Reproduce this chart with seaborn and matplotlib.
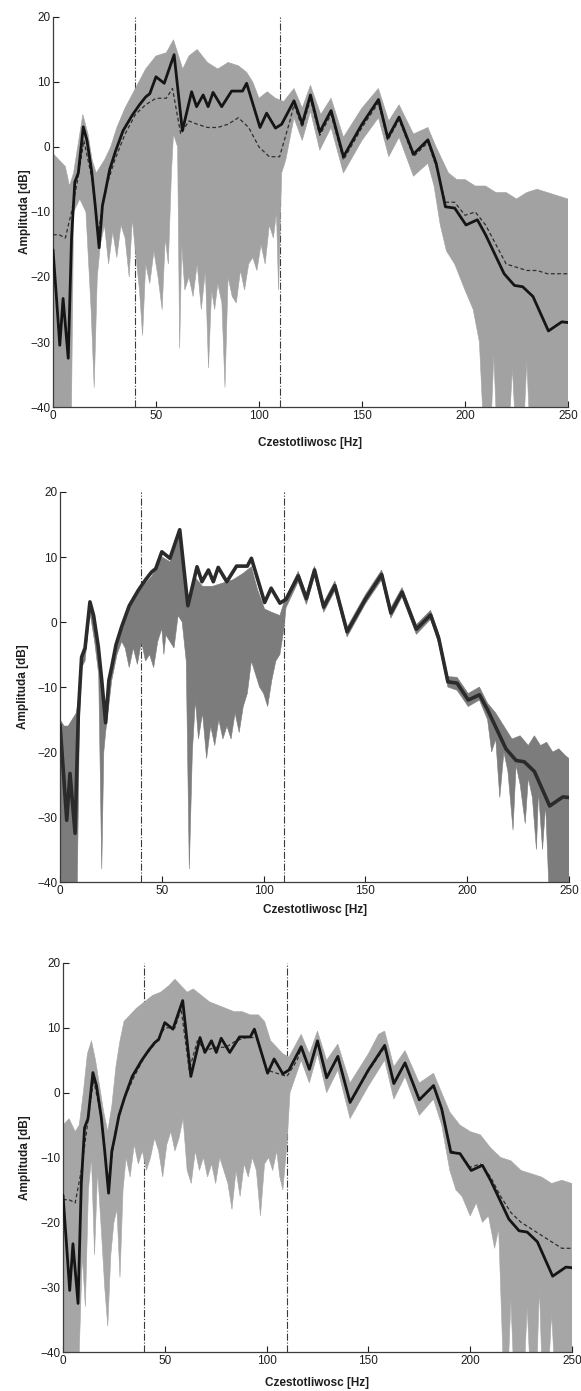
import numpy as np
import pandas as pd
import matplotlib
matplotlib.use("Agg")
import matplotlib.pyplot as plt
import seaborn as sns

# ---------------- data ----------------
# reference spectrum (thick black line), same in all panels
ref_hz = [0, 1.6, 3.3, 4.9, 7.4, 9.0, 10.6, 12.3, 14.7, 16.5, 18.8, 20.5, 22.4, 24, 25.4, 27.5, 30.3, 34,
          38.5, 42, 45, 47, 50, 54, 58.8, 62.8, 67.3, 69.7, 72.9, 75.3, 77.7, 81.9, 86.7, 92, 94,
          100.5, 103.7, 108, 111, 117, 121, 125, 129.5, 135, 141, 150, 158, 162.5, 168, 175, 182,
          186, 190.5, 195, 200.5, 206, 210, 219, 224, 228, 233, 240.5, 247, 250]
ref_db = [-15.8, -22.8, -30.5, -23.3, -32.5, -14, -5.4, -4, 3.1, 1, -3.8, -9, -15.5, -9, -6.9, -3.5, -0.7, 2.5,
          4.9, 6.5, 7.7, 8.2, 10.8, 9.8, 14.2, 2.5, 8.5, 6.2, 8, 6.2, 8.4, 6.2, 8.6, 8.6, 9.8,
          3.0, 5.2, 2.9, 3.5, 7.1, 3.6, 8.0, 2.3, 5.6, -1.5, 3.5, 7.3, 1.4, 4.6, -1.1, 1.1,
          -2.5, -9.2, -9.4, -12, -11.2, -13.5, -19.5, -21.3, -21.5, -23, -28.3, -26.9, -27]

# mean of the realisations (dashed line), panels 1 and 3
mean_hz = [0, 3, 6, 9, 12, 15, 19, 22, 26, 30, 35, 40, 45, 50, 55, 58, 62, 66, 70, 75, 80, 85, 90, 95,
           100, 105, 110, 115, 117, 121, 125, 129.5, 135, 141, 150, 158, 162.5, 168, 175, 182, 186,
           190.5, 195, 200, 205, 210, 215, 220, 225, 230, 235, 240, 245, 250]
mean1_db = [-13.5, -13.5, -14, -10, -5, 1, -5, -13, -6, -2, 2, 5, 6.5, 7.5, 7.5, 9, 2, 4, 3.5, 3, 3, 3.5, 4.5, 3,
            0, -1.5, -1.5, 4, 6.5, 3, 7.3, 1.8, 5, -2, 3, 6.8, 1, 4.2, -1.5, 0.7, -3,
            -8.5, -8.5, -10.5, -10, -12, -15, -18, -18.5, -19, -19, -19.5, -19.5, -19.5]
mean3_db = [-16.5, -16.5, -17, -12, -5, 2, -4, -14, -5.5, -1, 2.5, 5.5, 7.5, 10, 10, 13, 3.5, 8, 6.5, 7, 7, 8, 8.5, 8.5,
            3.5, 3, 2.5, 5, 6.8, 3.5, 7.8, 2.3, 5.4, -1.6, 3.3, 7, 1.3, 4.5, -1.2, 1, -2.6,
            -9, -9.4, -11.5, -11, -13, -16, -18.5, -20, -21, -22, -23, -24, -24]

# envelopes of the grey bundle of realisations (Hz, dB)
p1_upper = [(0, -1), (3, -2), (6, -3), (8, -6), (10, -4), (12, 0), (14.5, 5), (17, 2), (19, -2), (21, -4),
            (23, -3), (25, -2), (28, 0), (31, 3), (35, 6), (40, 9), (45, 12), (50, 14), (55, 14.5),
            (58.5, 16.5), (61, 14), (63, 12), (66, 14), (70, 15), (75, 13), (80, 12), (85, 13), (90, 12.5),
            (94, 11.5), (97, 10), (100, 7.5), (104, 8.5), (108, 7.5), (112, 7), (117, 9), (121, 6), (125, 9.5),
            (130, 5), (135, 7.5), (141, 1.5), (150, 6), (158, 9), (163, 4), (168, 6.5), (175, 2), (182, 3),
            (186, 0), (189, -2), (192, -4), (196, -5), (200, -5), (205, -6), (210, -6), (215, -7), (220, -7),
            (225, -8), (230, -7), (235, -6.5), (240, -7), (245, -7.5), (250, -8)]
p1_lower = [(0, -40), (9, -40), (10, -10), (13, -8), (16, -10), (18.5, -25), (20, -37), (21.5, -20), (23, -15),
            (25, -12), (27, -18), (29, -13), (31, -17), (33, -12), (35, -14), (37, -20), (38.5, -11), (40, -16),
            (42, -22), (43.5, -29), (45, -18), (47, -21), (49, -16), (51, -20), (53, -25), (54.5, -14), (56, -18),
            (57.5, -4), (58.5, 2), (60.5, 0), (61.5, -31), (62.5, -15), (64, -22), (66, -20), (68, -23), (70, -18),
            (72, -25), (74, -19), (75.5, -34), (77, -22), (78.5, -25), (80, -21), (82, -24), (83.5, -37), (85, -20),
            (87, -23), (89, -24), (91, -19), (93, -22), (95, -18), (97, -17), (99, -19), (101, -15), (103, -18),
            (105, -12), (107, -14), (108.5, -10), (109.5, -22), (111, -4), (113, -2), (117, 4.5), (121, 1),
            (125, 5.5), (129.5, -0.5), (135, 3), (141, -4), (150, 1), (158, 4.5), (163, -1.5), (168, 1.5),
            (175, -4.5), (182, -2.5), (185, -6), (188, -12), (191, -16), (195, -18), (200, -22), (204, -25),
            (207, -30), (208.5, -40), (213, -40), (214, -32), (215, -40), (222, -40), (223, -34), (224, -40),
            (229, -40), (230, -33), (231, -40), (250, -40)]

p2_upper = [(0, -15), (2, -16), (4, -16), (6, -15), (8, -14), (9, -12), (10.6, -5.4), (12.3, -4), (14.7, 3.1),
            (18.8, -3.8), (22.4, -15.5), (25.4, -6.9), (30.3, -0.7), (34, 2.3), (38.5, 4.5), (42, 6), (45, 7),
            (50, 10), (54, 9.3), (58.8, 13.5), (62.8, 2.5), (66, 7), (70, 5.5), (75, 5.5), (80, 6), (85, 6.5),
            (90, 7.5), (94, 8.5), (97, 5), (100.5, 2), (104, 1.5), (108, 1), (110, 3), (111, 3.8), (117, 7.8),
            (121, 4.3), (125, 8.6), (129.5, 3), (135, 6.3), (141, -0.8), (150, 4.2), (158, 8), (162.5, 2.2),
            (168, 5.3), (175, -0.4), (182, 1.8), (186, -1.8), (190.5, -8.4), (195, -8.5), (200.5, -11),
            (206, -10), (210, -12.5), (214, -14), (218, -16), (222, -18), (226, -17.5), (230, -19), (233, -17.5),
            (236, -19), (239, -18.5), (242, -20), (245, -19.5), (248, -20.5), (250, -21)]
p2_lower = [(0, -40), (8.5, -40), (9.5, -16), (10.6, -7), (12.3, -6), (14.7, 1.5), (17, -3), (19, -8), (20.5, -38),
            (21.5, -20), (22.4, -17), (25.4, -9), (28, -5), (30.3, -3), (32, -4), (34, -7), (36, -4), (38, -6.5),
            (40, -3), (42, -6), (44, -5), (46, -7), (48, -3), (50, -1), (51, -5), (52, -2), (54, -3), (56, -4),
            (58, 1), (60, 0), (62, -6), (63.5, -38), (65, -20), (66.5, -12), (68, -18), (70, -14), (72, -21),
            (74, -16), (76, -19), (78, -15), (80, -18), (82, -16), (84, -18), (86, -14), (88, -17), (90, -13),
            (92, -11), (94, -6), (96, -8), (98, -10), (100, -11), (102, -13), (104, -9), (106, -6), (108, -5),
            (110, -1), (111, 2.2), (117, 6.2), (121, 2.7), (125, 7), (129.5, 1.5), (135, 4.8), (141, -2.3),
            (150, 2.8), (158, 6.5), (162.5, 0.6), (168, 3.9), (175, -1.9), (182, 0.4), (186, -3.3), (190.5, -10),
            (195, -10.5), (200.5, -13), (206, -12), (210, -15), (212, -20), (214, -18), (216, -27), (218, -20),
            (220, -23), (222.5, -32), (224, -22), (226, -25), (228.5, -31), (230, -24), (232, -27), (234, -35),
            (235, -26), (237, -35), (238.5, -28), (240, -40), (250, -40)]

p3_upper = [(0, -5), (3, -4), (6, -6), (8, -5), (10, 0), (12, 6), (14, 8), (16, 5), (18, 1), (20, -3), (22, -6),
            (24, -2), (26, 4), (28, 8), (30, 11), (33, 12), (36, 13), (40, 14), (44, 15), (48, 15.5), (52, 16.5),
            (55, 17.5), (58, 16.5), (61, 15.5), (64, 16), (68, 15), (72, 14), (76, 13.5), (80, 13), (84, 12.5),
            (88, 12.5), (92, 12), (96, 12), (99, 11), (102, 8), (105, 7), (108, 6), (111, 5.5), (117, 9),
            (121, 6), (125, 9.5), (129.5, 5), (135, 7.5), (141, 1.5), (150, 6), (155, 9), (158, 9.5),
            (162.5, 4), (168, 6.5), (175, 1.5), (182, 3), (186, 0), (190, -3), (195, -5), (200, -6),
            (205, -6.5), (210, -8.5), (215, -10), (220, -10.5), (225, -12), (230, -12.5), (235, -13),
            (240, -14), (245, -13.5), (250, -14)]
p3_lower = [(0, -40), (8, -40), (9.5, -25), (11, -33), (12.5, -15), (14, -10), (15.5, -25), (17, -12), (19, -22),
            (20.5, -30), (22, -36), (23.5, -25), (25, -20), (26.5, -18), (28, -28.5), (29.5, -15), (31, -10),
            (33, -13), (35, -8), (37, -11), (39, -9), (41, -12), (43, -10), (45, -7), (47, -9), (49, -13),
            (51, -8), (53, -6), (55, -9), (57, -7), (59, -4), (61, -12), (63, -14), (65, -9), (67, -12),
            (69, -10), (71, -13), (73, -11), (75, -14), (77, -10), (79, -12), (81, -14), (83, -18), (85, -12),
            (87, -16), (89, -11), (91, -13), (93, -10), (95, -12), (97, -19), (99, -11), (101, -10), (103, -12),
            (105, -9), (106.5, -13), (108, -15), (110, -8), (111.5, 0), (117, 5), (121, 1.5), (125, 6),
            (129.5, 0), (135, 3.5), (141, -4), (150, 1), (158, 5), (162.5, -1), (168, 2.5), (175, -3.5),
            (182, -1), (186, -5), (190, -12), (193, -15), (196, -16), (200, -19), (203, -17), (206, -20),
            (209, -19), (212, -24), (214, -21), (216, -40), (219, -40), (220, -32), (221, -40), (227, -40),
            (228, -33), (229, -40), (233, -40), (234, -30), (235, -40), (239, -40), (240, -34), (241, -40),
            (250, -40)]

x_ticks = [0, 50, 100, 150, 200, 250]
y_ticks = [-40, -30, -20, -10, 0, 10, 20]
band_limits = [40, 110]
x_label = "Czestotliwosc [Hz]"
y_label = "Amplituda [dB]"

# ---------------- drawing ----------------
sns.set_theme(style="ticks")
plt.rcParams['font.family'] = ['Liberation Sans', 'DejaVu Sans']

fig = plt.figure(figsize=(5.81, 13.91), dpi=100)

panels = [
    dict(rect=[0.0912, 0.7074, 0.8864, 0.2804], upper=p1_upper, lower=p1_lower, band="#a2a2a2",
         mean=mean1_db, ref_color="#151515", ref_lw=2.0, xl=-0.092, yl=-0.054),
    dict(rect=[0.1033, 0.3659, 0.8761, 0.2804], upper=p2_upper, lower=p2_lower, band="#7c7c7c",
         mean=None, ref_color="#2b2b2b", ref_lw=2.6, xl=-0.072, yl=-0.073),
    dict(rect=[0.1084, 0.0280, 0.8761, 0.2797], upper=p3_upper, lower=p3_lower, band="#a6a6a6",
         mean=mean3_db, ref_color="#151515", ref_lw=2.0, xl=-0.08, yl=-0.075),
]

ref_df = pd.DataFrame({"hz": ref_hz, "db": ref_db})

for p in panels:
    ax = fig.add_axes(p["rect"])
    for xv in band_limits:
        ax.axvline(xv, color="#3a3a3a", lw=0.8, ls="-.", zorder=1)
    ux, uy = zip(*p["upper"])
    lx, ly = zip(*p["lower"])
    ax.fill(np.concatenate([ux, lx[::-1]]), np.concatenate([uy, ly[::-1]]),
            color=p["band"], lw=0.4, ec=p["band"], zorder=2)
    if p["mean"] is not None:
        mdf = pd.DataFrame({"hz": mean_hz, "db": p["mean"]})
        sns.lineplot(data=mdf, x="hz", y="db", ax=ax, color="#2e2e2e", lw=0.9,
                     linestyle=(0, (3, 2)), zorder=3, estimator=None)
    sns.lineplot(data=ref_df, x="hz", y="db", ax=ax, color=p["ref_color"], lw=p["ref_lw"],
                 zorder=4, estimator=None)
    ax.set_xlim(0, 250)
    ax.set_ylim(-40, 20)
    ax.set_xticks(x_ticks)
    ax.set_yticks(y_ticks)
    ax.tick_params(direction="in", length=4, width=0.8, labelsize=8.5, pad=2, colors="#1e1e1e")
    for s in ["top", "right"]:
        ax.spines[s].set_visible(False)
    for s in ["left", "bottom"]:
        ax.spines[s].set_linewidth(0.9)
        ax.spines[s].set_color("#3c3c3c")
    ax.set_xlabel(x_label, fontsize=8.5, fontweight="bold", color="#1e1e1e", va="center")
    ax.set_ylabel(y_label, fontsize=8.5, fontweight="bold", color="#1e1e1e", va="center")
    ax.xaxis.set_label_coords(0.5, p["xl"])
    ax.yaxis.set_label_coords(p["yl"], 0.5)
    ax.set_facecolor("white")

fig.savefig("out.png", dpi=100, facecolor="white")
